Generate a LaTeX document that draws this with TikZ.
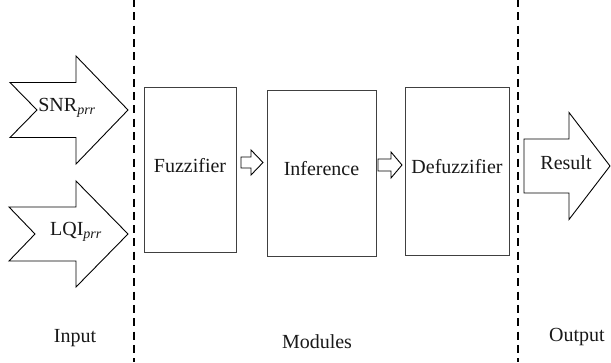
\documentclass[tikz,border=0pt]{standalone}
\usepackage{fontspec}
\setmainfont{Liberation Serif}
\begin{document}
\begin{tikzpicture}[x=1pt, y=-1pt,
  txt/.style={font=\fontsize{20}{24}\selectfont, inner sep=0pt, text=black!90},
  module/.style={draw=black!75, line width=1pt, fill=white, inner sep=0pt},
  modtext/.style={label={[txt, yshift=4pt]center:#1}},
  blockline/.style={draw=black, line width=0.9pt, line join=miter, fill=white},
  separator/.style={line width=2.3pt, dash pattern=on 8pt off 5.3pt, dash phase=1pt},
  lbl/.style={txt, anchor=base}
]
% canvas
\fill[white] (0,0) rectangle (611,362);
\useasboundingbox (0,0) rectangle (611,362);

% hollow block arrow: tail x, notch depth, head base x, tip x, centre y, shaft half, head half
\newcommand\hollowarrow[7]{%
  \draw[blockline] ({#1},{#5-#6}) -- ({#3},{#5-#6}) -- ({#3},{#5-#7}) -- ({#4},{#5})
    -- ({#3},{#5+#7}) -- ({#3},{#5+#6}) -- ({#1},{#5+#6}) -- ({#1+#2},{#5}) -- cycle;}

% stage separators
\coordinate (s1top) at (134.3,0);
\coordinate (s1bot) at (134.3,362);
\coordinate (s2top) at (518,0);
\coordinate (s2bot) at (518,362);
\draw[separator] (s1top) -- (s1bot);
\draw[separator] (s2top) -- (s2bot);

% input arrows
\hollowarrow{10}{27}{76}{128}{110}{27.5}{54}
\node[txt] (snr) at (67,108) {SNR\textsubscript{\itshape prr}};
\hollowarrow{9}{26}{76}{128}{234}{27}{53}
\node[txt] (lqi) at (76,232) {LQI\textsubscript{\itshape prr}};

% processing modules
\node[module, minimum width=92pt, minimum height=165pt, modtext=Fuzzifier] (fuzz) at (190,169.5) {};
\node[module, minimum width=109pt, minimum height=166pt, modtext=Inference] (infer) at (321.5,173) {};
\node[module, minimum width=104pt, minimum height=168pt, modtext=Defuzzifier] (defuzz) at (457,171) {};

% links between modules
\hollowarrow{241}{0}{251}{263}{162.5}{5.5}{12.5}
\hollowarrow{378}{0}{391}{402}{165}{6}{13}

% output arrow
\hollowarrow{524}{0}{569}{610}{166}{27}{53.5}
\node[txt] (res) at (566,163) {Result};

% stage labels
\node[lbl] (linput) at (75,342) {Input};
\node[lbl] (lmod) at (317,348) {Modules};
\node[lbl] (lout) at (577,341) {Output};
\end{tikzpicture}
\end{document}
